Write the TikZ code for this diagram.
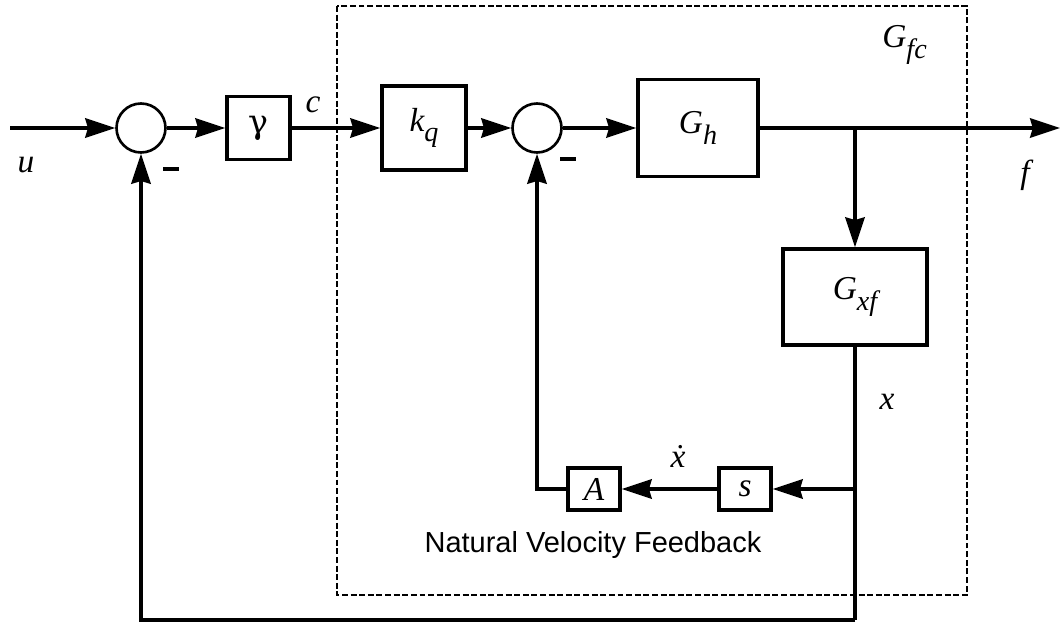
\documentclass[tikz,border=0pt]{standalone}
\usepackage{fontspec}
\setmainfont{Liberation Serif}
\newfontfamily\sansfam{Liberation Sans}
\newfontfamily\greekfam{DejaVu Serif}
\usetikzlibrary{arrows.meta}
% lowered italic subscript, as in G_h, k_q
\newcommand\lsub[1]{\raisebox{-0.32em}{\fontsize{16}{16}\selectfont\itshape #1}}
\tikzset{
  wire/.style={line width=2pt},
  flow/.style={wire,-{Stealth[length=17pt,width=11pt,inset=1.5pt]}},
  blk/.style={draw,line width=2pt,rectangle,inner sep=0pt,
              font=\fontsize{19}{19}\selectfont\itshape},
  sumpt/.style={draw,line width=1.5pt,circle,inner sep=0pt,minimum size=0.98cm},
  minusmark/.style={fill=black,rectangle,inner sep=0pt,minimum width=0.33cm,minimum height=0.075cm},
  lbl/.style={inner sep=0pt,font=\fontsize{19}{19}\selectfont\itshape},
  dashbox/.style={line width=1.2pt,dash pattern=on 3.4pt off 1.5pt},
}
\begin{document}
\begin{tikzpicture}[x=0.02cm,y=-0.02cm]
\useasboundingbox (0,0) rectangle (1060,625);

% boundary of the force-control subsystem
\draw[dashbox] (337,6) rectangle (967,595);

% blocks and summing junctions
\node[sumpt] (s1) at (141,128) {};
\node[blk,minimum width=1.26cm,minimum height=1.26cm,font=\greekfam\fontsize{19}{19}\selectfont] (gam) at (258.5,128) {γ};
\node[blk,minimum width=1.68cm,minimum height=1.68cm] (kq) at (424,128) {\textit{k}\lsub{q}};
\node[sumpt] (s2) at (537,128) {};
\node[blk,minimum width=2.4cm,minimum height=1.94cm] (gh) at (698,128) {\textit{G}\lsub{h}};
\node[blk,minimum width=2.88cm,minimum height=1.92cm] (gxf) at (855,297) {\textit{G}\lsub{xf}};
\node[blk,minimum width=1.04cm,minimum height=0.84cm] (sb) at (745,489) {s};
\node[blk,minimum width=1.04cm,minimum height=0.84cm] (ab) at (594,489) {A};

% signs at the junctions
\node[minusmark] (m1) at (171,169) {};
\node[minusmark] (m2) at (568,159) {};

% free ends and corners of the signal paths
\coordinate (uin) at (10,128);
\coordinate (fout) at (1060,128);
\coordinate (br) at (855,128);
\coordinate (xtap) at (855,489);
\coordinate (bot) at (855,620);

% forward path
\draw[flow] (uin) -- (s1);
\draw[flow] (s1) -- (gam);
\draw[flow] (gam) -- (kq);
\draw[flow] (kq) -- (s2);
\draw[flow] (s2) -- (gh);
\draw[flow] (gh) -- (fout);
\draw[flow] (br) -- (gxf);

% velocity feedback
\draw[wire] (gxf.south) -- (bot);
\draw[flow] (xtap) -- (sb);
\draw[flow] (sb) -- (ab);
\draw[flow] (ab.west) -| (s2.south);

% outer feedback
\draw[flow] (bot) -| (s1.south);

% signal labels
\node[lbl] (lu) at (26,165) {u};
\node[lbl] (lc) at (313,105) {c};
\node[lbl] (lf) at (1025,175) {f};
\node[lbl] (lx) at (887,402) {x};
\node[lbl] (lxd) at (678,456) {\.{x}};
\node[lbl,anchor=base west] (lgfc) at (882,48) {\textit{G}\lsub{fc}};
\node[inner sep=0pt,font=\sansfam\fontsize{16.5}{16.5}\selectfont] (nvf) at (593,545) {Natural Velocity Feedback};
\end{tikzpicture}
\end{document}
